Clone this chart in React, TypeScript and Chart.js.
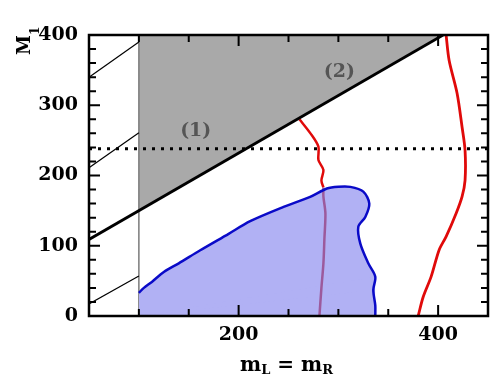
import React, { useEffect, useRef } from 'react';
import { Chart, registerables } from 'chart.js';

Chart.register(...registerables);

// ---- data (x = m_L = m_R, y = M_1) ----
const xTickValues = [200, 400];
const yTickValues = [0, 100, 200, 300, 400];

const dottedLine = [[50, 238], [450, 238]];
const boundaryLine = [[50, 109], [405, 400]];
const grayRegion = [[100, 150], [405, 400]];
const thinLineA = [[50, 340], [100, 390]];
const thinLineB = [[50, 211], [100, 261]];
const thinLineC = [[50, 17], [100, 57]];
const verticalLine = [[100, 0], [100, 400]];

const blueRegion = [
  [100, 33], [105, 40], [113, 48.5], [125, 62.7], [140, 75], [161.5, 93.6], [190, 117],
  [211.6, 135], [245, 155.3], [271.7, 169.6], [288.5, 181.5], [300, 184], [312, 183.8],
  [325, 177], [331, 160], [327, 141], [320, 127], [322, 103], [330, 75], [337, 56],
  [335, 37], [337, 15], [337, 0],
];

// red curve 1, split where it enters the blue region
const redCurve1Outside = [
  [261, 280], [272, 260], [280, 241], [280, 222], [285, 208], [283, 193], [285, 183],
];
const redCurve1Inside = [
  [285, 183], [285, 170], [287, 146], [286, 110], [285, 75], [283, 40], [281, 0],
];

const redCurve2 = [
  [408, 400], [411, 364], [419, 317], [424, 269], [427, 236], [427, 193], [424, 170],
  [418, 146], [408, 113], [401, 94], [393, 56], [385, 27], [380, 0],
];

const regionLabels = [
  { text: '(1)', x: 157, y: 263 },
  { text: '(2)', x: 301, y: 347 },
];

const toPts = (arr: number[][]) => arr.map(([x, y]) => ({ x, y }));

const SERIF = '"DejaVu Serif", serif';

export default function App() {
  const ref = useRef<HTMLCanvasElement | null>(null);

  useEffect(() => {
    if (!ref.current) return;

    const framePlugin = {
      id: 'frameAndText',
      afterDraw(chart: any) {
        const { ctx, chartArea: a, scales } = chart;
        const x = scales.x;
        const y = scales.y;
        ctx.save();
        // inward ticks
        ctx.strokeStyle = '#000';
        ctx.lineWidth = 2;
        ctx.beginPath();
        for (const t of x.ticks) {
          const px = x.getPixelForValue(t.value);
          const L = xTickValues.includes(t.value) ? 11 : 7;
          ctx.moveTo(px, a.bottom);
          ctx.lineTo(px, a.bottom - L);
          ctx.moveTo(px, a.top);
          ctx.lineTo(px, a.top + L);
        }
        for (const t of y.ticks) {
          const py = y.getPixelForValue(t.value);
          const L = yTickValues.includes(t.value) ? 11 : 7;
          ctx.moveTo(a.left, py);
          ctx.lineTo(a.left + L, py);
          ctx.moveTo(a.right, py);
          ctx.lineTo(a.right - L, py);
        }
        ctx.stroke();
        // frame
        ctx.lineWidth = 2.5;
        ctx.strokeRect(a.left, a.top, a.right - a.left, a.bottom - a.top);

        // region labels
        ctx.fillStyle = '#555';
        ctx.font = `bold 19px ${SERIF}`;
        ctx.textAlign = 'center';
        ctx.textBaseline = 'middle';
        for (const l of regionLabels) {
          ctx.fillText(l.text, x.getPixelForValue(l.x), y.getPixelForValue(l.y));
        }

        // x title: m_L = m_R
        ctx.fillStyle = '#000';
        ctx.textBaseline = 'alphabetic';
        ctx.textAlign = 'left';
        const big = `bold 20px ${SERIF}`;
        const small = `bold 13px ${SERIF}`;
        const parts: [string, string, number][] = [
          ['m', big, 0], ['L', small, 3], [' = ', big, 0], ['m', big, 0], ['R', small, 3],
        ];
        let total = 0;
        for (const [s, f] of parts) { ctx.font = f; total += ctx.measureText(s).width; }
        let cx = (a.left + a.right) / 2 - total / 2 - 2;
        const base = 371;
        for (const [s, f, dy] of parts) {
          ctx.font = f;
          ctx.fillText(s, cx, base + dy);
          cx += ctx.measureText(s).width;
        }

        // y title: M_1 rotated
        ctx.save();
        ctx.translate(30, 55);
        ctx.rotate(-Math.PI / 2);
        ctx.font = `bold 18px ${SERIF}`;
        ctx.fillText('M', 0, 0);
        const mw = ctx.measureText('M').width;
        ctx.font = `bold 12px ${SERIF}`;
        ctx.fillText('1', mw, 9);
        ctx.restore();

        ctx.restore();
      },
    };

    const line = (data: number[][], color: string, width: number, extra: any = {}) => ({
      data: toPts(data),
      showLine: true,
      borderColor: color,
      backgroundColor: color,
      borderWidth: width,
      pointRadius: 0,
      fill: false,
      tension: 0,
      ...extra,
    });

    const tickFont = { family: SERIF, weight: 'bold' as const, size: 19 };

    const chart = new Chart(ref.current, {
      type: 'scatter',
      data: {
        datasets: [
          line(dottedLine, '#000', 3, { borderDash: [3, 6] }),
          line(boundaryLine, '#000', 2.8),
          line(thinLineA, '#000', 1.2),
          line(thinLineB, '#000', 1.2),
          line(thinLineC, '#000', 1.2),
          // blue border on top
          line(blueRegion, '#0a0ac8', 2.5, { tension: 0.3 }),
          // red curve 1 (purple where it lies inside the blue region)
          line(redCurve1Inside, '#9c5a9c', 2.5, { tension: 0.3 }),
          line(redCurve1Outside, '#e00a0a', 2.5, { tension: 0.3 }),
          // blue fill below
          line(blueRegion, 'rgba(0,0,0,0)', 0, {
            fill: 'origin',
            backgroundColor: '#b1b1f4',
            tension: 0.3,
          }),
          line(redCurve2, '#e00a0a', 2.8, { tension: 0.3 }),
          line(verticalLine, '#7a7a7a', 1.5),
          line(grayRegion, 'rgba(0,0,0,0)', 0, { fill: 'end', backgroundColor: '#a9a9a9' }),
        ] as any,
      },
      options: {
        animation: false,
        responsive: false,
        devicePixelRatio: 1,
        layout: { padding: { top: 35, right: 14, left: 0, bottom: 0 } },
        plugins: { legend: { display: false }, tooltip: { enabled: false } },
        scales: {
          x: {
            type: 'linear',
            min: 50,
            max: 450,
            grid: { display: false, drawTicks: false },
            border: { display: false },
            ticks: {
              stepSize: 50,
              autoSkip: false,
              maxRotation: 0,
              padding: 8,
              color: '#000',
              font: tickFont,
              callback: (v: any) => (xTickValues.includes(v) ? String(v) : ''),
            },
            afterFit: (s: any) => { s.height = 66; },
          },
          y: {
            type: 'linear',
            min: 0,
            max: 400,
            grid: { display: false, drawTicks: false },
            border: { display: false },
            ticks: {
              stepSize: 20,
              autoSkip: false,
              padding: 11,
              color: '#000',
              font: tickFont,
              callback: (v: any) => (yTickValues.includes(v) ? String(v) : ''),
            },
            afterFit: (s: any) => { s.width = 89; },
          },
        },
      } as any,
      plugins: [framePlugin],
    });

    return () => chart.destroy();
  }, []);

  return (
    <div style={{ position: 'fixed', left: 0, top: 0, width: 502, height: 382, background: '#fff' }}>
      <canvas ref={ref} width={502} height={382} style={{ display: 'block' }} />
    </div>
  );
}
